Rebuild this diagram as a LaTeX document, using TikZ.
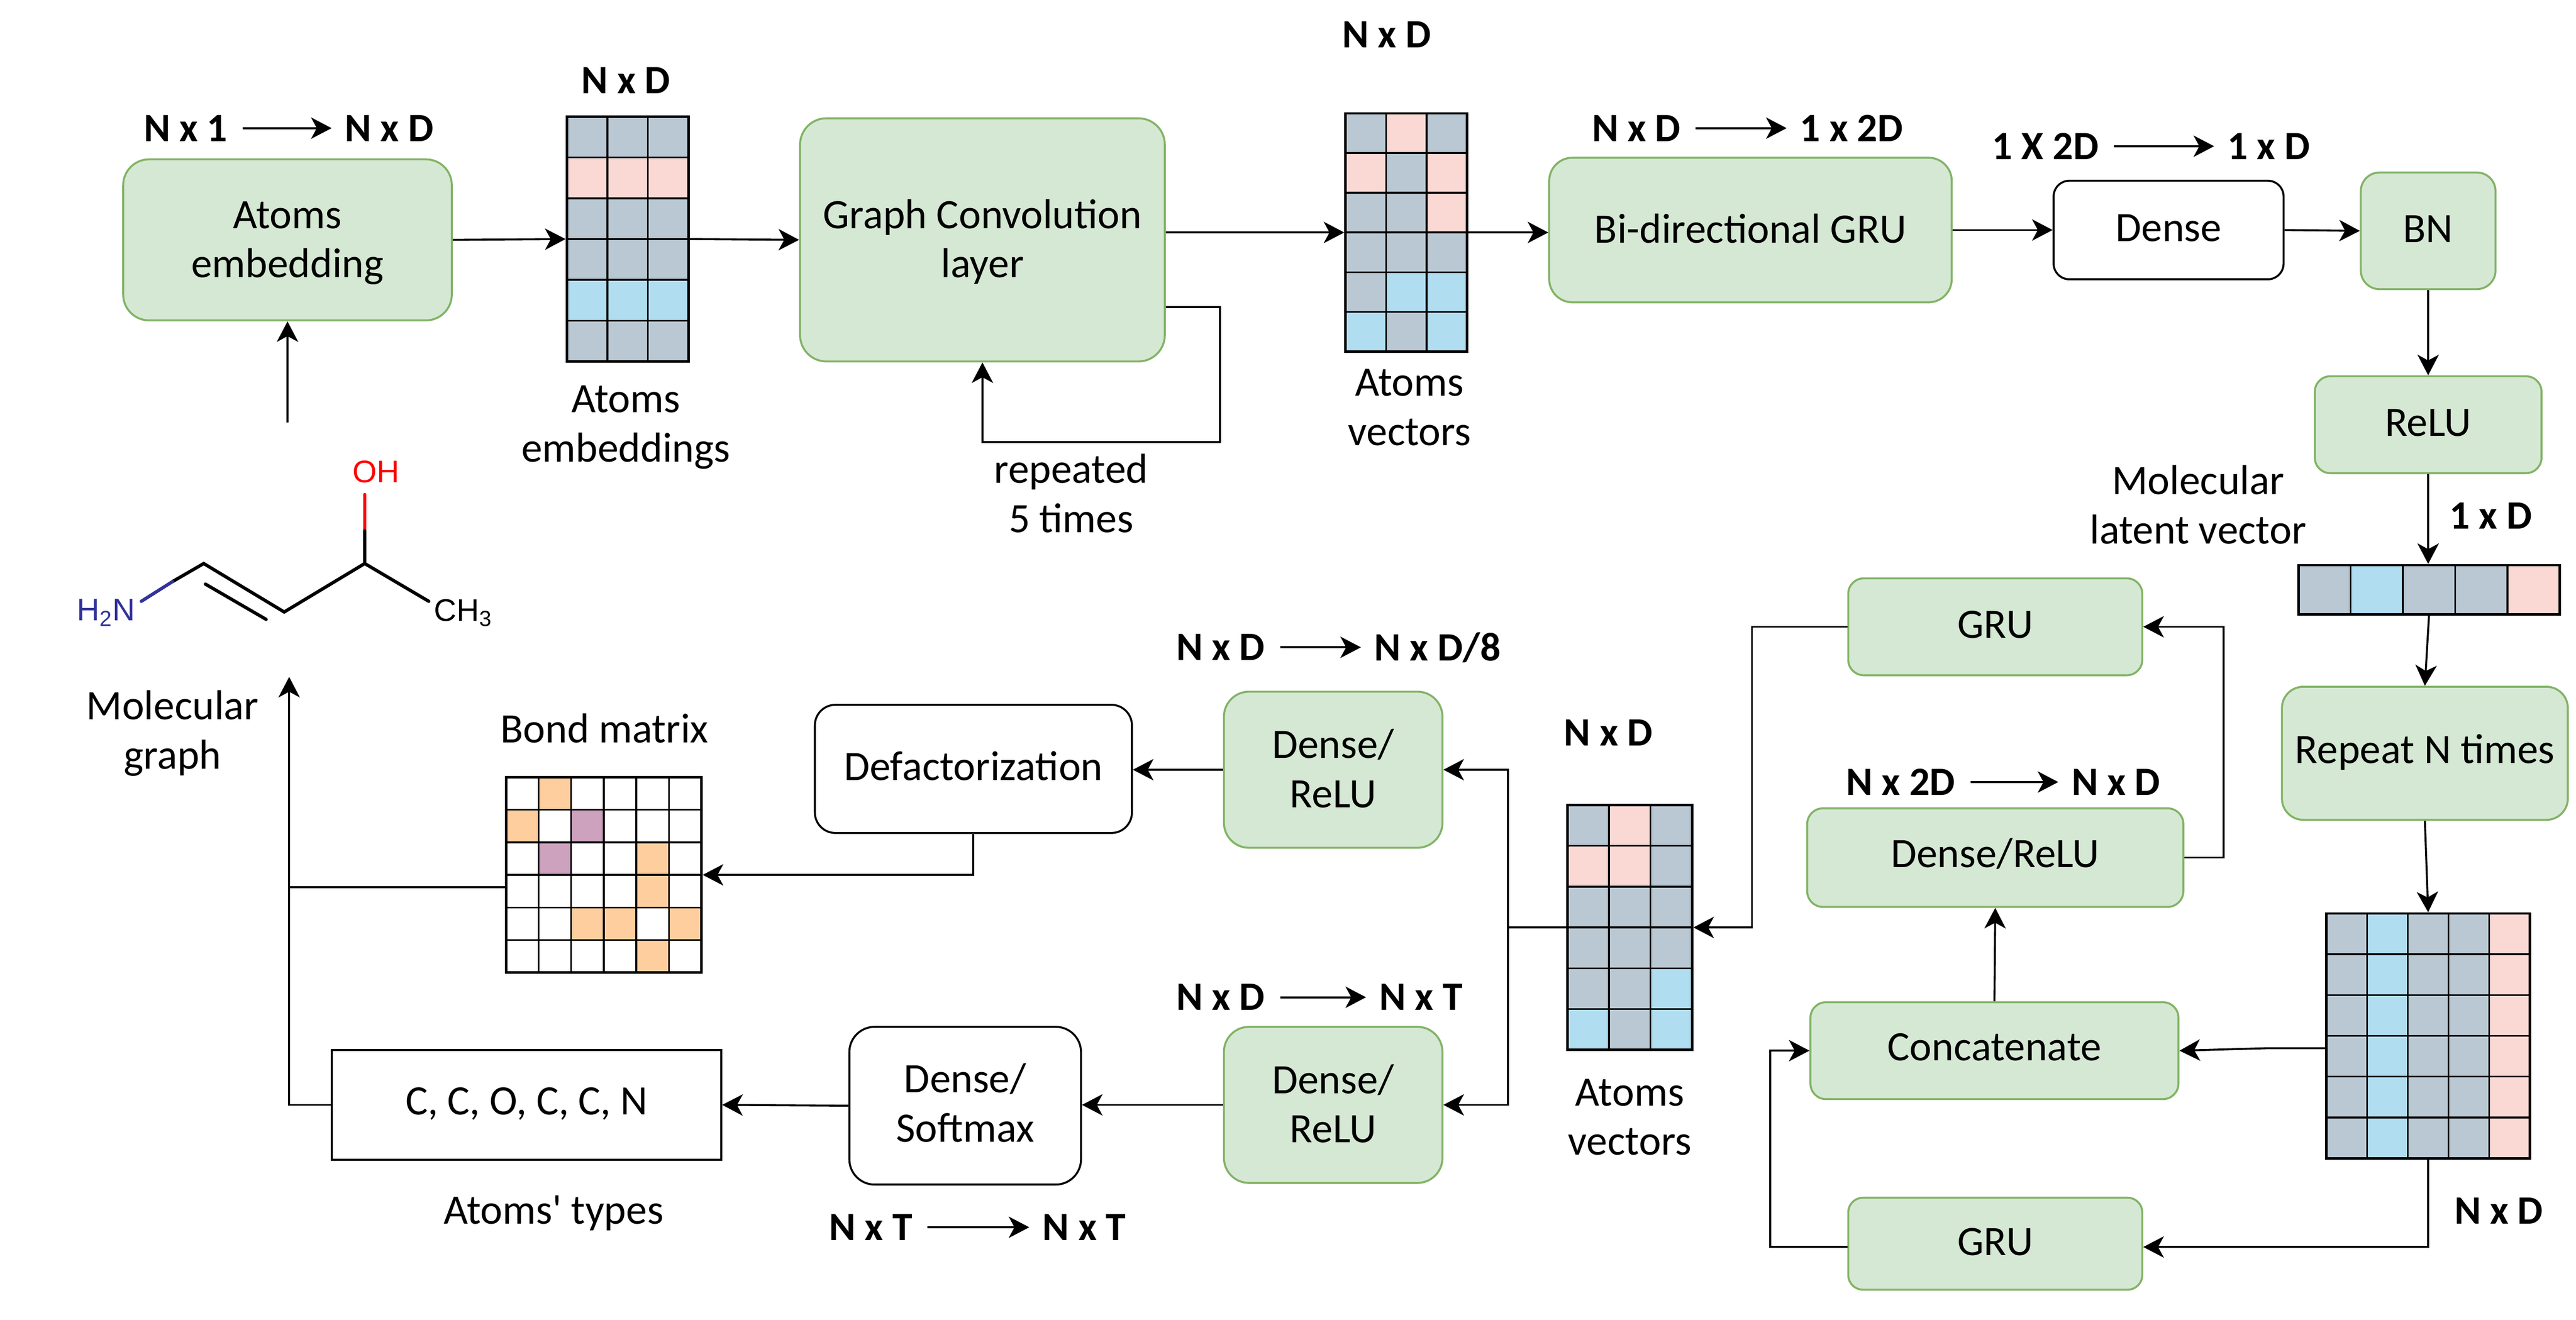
\documentclass[tikz,border=0pt]{standalone}
\usepackage{fontspec}
\setmainfont{Carlito}
\newfontfamily\molfont{Liberation Sans}
\usetikzlibrary{arrows.meta,calc}
\definecolor{matg}{HTML}{BAC8D3}
\definecolor{matp}{HTML}{FAD9D5}
\definecolor{matb}{HTML}{B1DDF0}
\definecolor{mato}{HTML}{FFCE9F}
\definecolor{matu}{HTML}{CDA2BE}
\definecolor{matw}{HTML}{FFFFFF}
\definecolor{gfill}{HTML}{D5E8D4}
\definecolor{gline}{HTML}{82B366}
\definecolor{molblue}{HTML}{33339A}
\newcommand{\tstrut}{\rule[-8pt]{0pt}{30pt}}
\newcommand{\ttstrut}{\rule[-7pt]{0pt}{30pt}}
\tikzset{
  boxbase/.style={inner sep=0pt,align=center,font=\fontsize{25.5}{30}\selectfont},
  greenbox/.style={boxbase,draw=gline,fill=gfill,line width=1.2pt},
  whitebox/.style={boxbase,draw=black,fill=white,line width=1.2pt},
  arr/.style={-{Stealth[length=12.5pt,width=13pt,inset=3.5pt]},line width=1.2pt,black},
  plainline/.style={line width=1.2pt,black},
  dimarr/.style={arr,shorten <=9pt,shorten >=8pt},
  cellbox/.style={draw=black,line width=1.1pt},
  framebox/.style={draw=black,line width=1.5pt,inner sep=0pt},
  lab/.style={inner sep=0pt,align=center,font=\fontsize{25.5}{30}\selectfont},
  dimlab/.style={inner sep=0pt,font=\fontsize{24.5}{30}\selectfont\bfseries},
  bond/.style={line width=2pt,line cap=round,line join=miter,black},
  mollab/.style={inner sep=0pt,font=\fontsize{19}{22}\molfont},
}
\newcommand{\mybox}[7]{%
  \pgfmathsetmacro\bw{#4-#2}\pgfmathsetmacro\bh{#5-#3}%
  \pgfmathsetmacro\br{min(16,0.16*min(\bw,\bh))}%
  \node[#6,rounded corners=\br pt,minimum width=\bw pt,minimum height=\bh pt] (#1) at ({(#2+#4)/2},{(#3+#5)/2}) {#7};%
}
\newcommand{\matgrid}[8]{%
  \pgfmathsetmacro\cw{(#4-#2)/#6}\pgfmathsetmacro\ch{(#5-#3)/#7}%
  \foreach \cellc [count=\ci from 0] in {#8} {%
    \pgfmathtruncatemacro\cx{mod(\ci,#6)}%
    \pgfmathtruncatemacro\cy{int(\ci/#6)}%
    \draw[cellbox,fill=mat\cellc] ({#2+\cx*\cw},{#3+\cy*\ch}) rectangle ++(\cw,\ch);%
  }%
  \pgfmathsetmacro\bw{#4-#2}\pgfmathsetmacro\bh{#5-#3}%
  \node[framebox,minimum width=\bw pt,minimum height=\bh pt] (#1) at ({(#2+#4)/2},{(#3+#5)/2}) {};%
}
\begin{document}
\begin{tikzpicture}[x=1pt,y=-1pt]
\useasboundingbox (0,0) rectangle (1568,803.2);

% Boxes
\mybox{embed}{75}{97}{275}{195}{greenbox}{\raisebox{0pt}{\ttstrut}Atoms\\\ttstrut embedding}
\mybox{gc}{487}{72}{709}{220}{greenbox}{\ttstrut Graph Convolution\\\ttstrut layer}
\mybox{bigru}{943}{96}{1188}{184}{greenbox}{\ttstrut Bi-directional GRU}
\mybox{dense}{1250}{110}{1390}{170}{whitebox}{\tstrut Dense}
\mybox{bn}{1437}{105}{1519}{176}{greenbox}{\tstrut BN}
\mybox{relu}{1409}{229}{1547}{288}{greenbox}{\tstrut ReLU}
\mybox{rep}{1389}{418}{1563}{499}{greenbox}{\strut Repeat N times}
\mybox{gtop}{1125}{352}{1304}{411}{greenbox}{\tstrut GRU}
\mybox{dr}{1100}{492}{1329}{552}{greenbox}{\strut Dense/ReLU}
\mybox{concat}{1102}{610}{1326}{669}{greenbox}{\strut Concatenate}
\mybox{gbot}{1125}{729}{1304}{785}{greenbox}{\tstrut GRU}
\mybox{du}{745}{421}{878}{516}{greenbox}{\ttstrut Dense/\\\ttstrut ReLU}
\mybox{dl}{745}{625}{878}{720}{greenbox}{\ttstrut Dense/\\\ttstrut ReLU}
\mybox{defact}{496}{429}{689}{507}{whitebox}{\tstrut Defactorization}
\mybox{soft}{517}{625}{658}{721}{whitebox}{\tstrut Dense/\\\tstrut Softmax}
\node[boxbase,draw=black,fill=white,line width=1.2pt,minimum width=237pt,minimum height=67pt] (cc) at (320.5,672.5) {\strut C, C, O, C, C, N};

% Matrices
\matgrid{mata}{345}{71}{419}{220}{3}{6}{g,g,g,p,p,p,g,g,g,g,g,g,b,b,b,g,g,g}
\matgrid{matc}{819}{69}{893}{214}{3}{6}{g,p,g,p,g,p,g,g,p,g,g,g,g,b,b,b,g,b}
\matgrid{vec}{1399}{344}{1558}{374}{5}{1}{g,b,g,g,p}
\matgrid{big}{1416}{556}{1540}{705}{5}{6}{g,b,g,g,p,g,b,g,g,p,g,b,g,g,p,g,b,g,g,p,g,b,g,g,p,g,b,g,g,p}
\matgrid{matd}{954}{490}{1030}{639}{3}{6}{g,p,g,p,p,g,g,g,g,g,g,g,g,g,b,b,g,b}
\matgrid{bondm}{308}{473}{427}{592}{6}{6}{w,o,w,w,w,w,o,w,u,w,w,w,w,u,w,w,o,w,w,w,w,w,o,w,w,w,o,o,w,o,w,w,w,w,o,w}

% Free ends
\coordinate (molout) at (175,257);
\coordinate (molin) at (176,412);
\coordinate (jn) at (918,564.5);

% Connectors, top row
\draw[arr] (molout) -- (embed.south);
\draw[arr] (embed.east) -- (mata.west);
\draw[arr] (mata.east) -- (gc.west);
\draw[arr] (gc.east |- matc.west) -- (matc.west);
\draw[arr] (matc.east) -- (bigru.west |- matc.east);
\draw[arr] (bigru.east) -- (dense.west);
\draw[arr] (dense.east) -- (bn.west);
\draw[arr] (bn.south) -- (relu.south |- relu.north);
\draw[arr] (relu.south) -- (relu.south |- vec.north);
\draw[arr] (vec.south) -- (rep.north);
\draw[arr] (rep.south) -- (big.north);
\draw[arr] ($(gc.east)+(0,41)$) -- ++(33,0) -- ++(0,82) -| (gc.south);

% Connectors, right loop
\draw[arr] (big.south) |- ($(gbot.east)+(0,2)$);
\draw[arr] ($(big.west)+(0,7.5)$) -- ++(-35,0) -- (concat.east);
\draw[arr] ($(gbot.west)+(0,2)$) -- ++(-47,0) |- (concat.west);
\draw[arr] (concat.north) -- (dr.south);
\draw[arr] (dr.east) -- ++(24,0) |- (gtop.east);
\draw[arr] (gtop.west) -- ++(-58,0) |- (matd.east);

% Connectors, decoder
\draw[plainline] (matd.west) -- (jn);
\draw[arr] (jn) |- (du.east);
\draw[arr] (jn) |- (dl.east);
\draw[arr] (du.west) -- (defact.east |- du.west);
\draw[arr] (defact.south) |- (bondm.east);
\draw[arr] (dl.west) -- (soft.east |- dl.west);
\draw[arr] (soft.west) -- (cc.east);
\draw[arr] (cc.west) -| (molin);
\draw[plainline] ($(bondm.west)+(0,7.5)$) -- ++(-132,0);

% Molecule
\coordinate (ca) at (222,343);
\coordinate (cb) at (173,372.5);
\coordinate (cc1) at (124,343);
\draw[bond,red] (222,301) -- (222,323);
\draw[bond] (222,323) -- (ca) -- (261,366);
\draw[bond] (ca) -- (cb) -- (cc1) -- (105,354);
\draw[bond,molblue] (105,354) -- (86,366);
\draw[bond] (125,355.5) -- (162,377);
\node[mollab,text=red] (oh) at (229,287) {OH};
\node[mollab,text=molblue] (nh) at (64.5,373) {H\textsubscript{2}N};
\node[mollab] (chm) at (282,373) {CH\textsubscript{3}};

% Plain labels
\node[lab] (t1) at (381,260) {\strut Atoms\\\strut embeddings};
\node[lab] (t2) at (858,250) {\strut Atoms\\\strut vectors};
\node[lab] (t3) at (652,303) {\strut repeated\\\strut 5 times};
\node[lab] (t4) at (1338,310) {\strut Molecular~\\\strut latent vector};
\node[lab] (t5) at (105,447) {\strut Molecular\\\strut graph};
\node[lab] (t6) at (368,446) {\strut Bond matrix};
\node[lab] (t7) at (992,682) {\strut Atoms\\\strut vectors};
\node[lab] (t8) at (337,739) {\strut Atoms\textquotesingle{} types};

% Dimension labels
\node[dimlab] (d1) at (381,49) {N x D};
\node[dimlab] (d2) at (844,21) {N x D};
\node[dimlab] (d3) at (1516,314) {1 x D};
\node[dimlab] (d4) at (1521,737) {N x D};
\node[dimlab] (d5) at (979,446) {N x D};

\node[dimlab] (a1) at (113,78) {N x 1};
\node[dimlab] (b1) at (237,78) {N x D};
\draw[dimarr] (a1.east) -- (b1.west);
\node[dimlab] (a2) at (996,78) {N x D};
\node[dimlab] (b2) at (1127,78) {1 x 2D};
\draw[dimarr] (a2.east) -- (b2.west);
\node[dimlab] (a3) at (1245,89) {1 X 2D};
\node[dimlab] (b3) at (1381,89) {1 x D};
\draw[dimarr] (a3.east) -- (b3.west);
\node[dimlab] (a4) at (1157,476) {N x 2D};
\node[dimlab] (b4) at (1288,476) {N x D};
\draw[dimarr] (a4.east) -- (b4.west);
\node[dimlab] (a5) at (743,394) {N x D};
\node[dimlab] (b5) at (875,394) {N x D/8};
\draw[dimarr] (a5.east) -- (b5.west);
\node[dimlab] (a6) at (743,607) {N x D};
\node[dimlab] (b6) at (865,607) {N x T};
\draw[dimarr] (a6.east) -- (b6.west);
\node[dimlab] (a7) at (530,747) {N x T};
\node[dimlab] (b7) at (660,747) {N x T};
\draw[dimarr] (a7.east) -- (b7.west);
\end{tikzpicture}
\end{document}
